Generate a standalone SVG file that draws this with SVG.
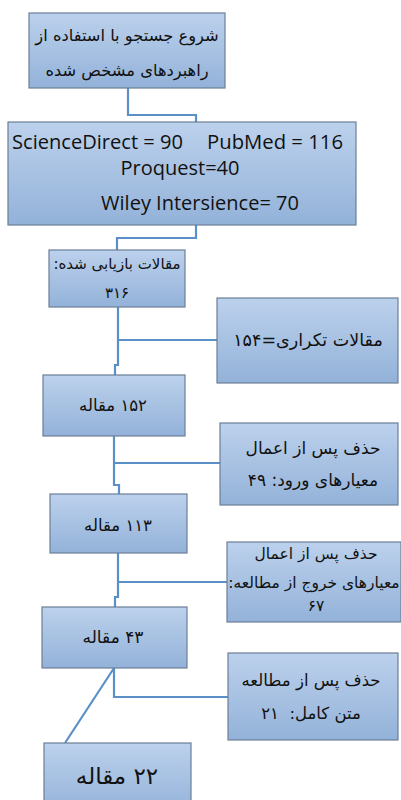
<svg xmlns="http://www.w3.org/2000/svg" width="401" height="800" viewBox="0 0 401 800">
<defs>
<linearGradient id="g" x1="0" y1="0" x2="0" y2="1">
<stop offset="0" stop-color="#bcd1ec"/>
<stop offset="1" stop-color="#93b2d9"/>
</linearGradient>
<style>
.box{fill:url(#g);stroke:#6b7f97;stroke-width:1.2}
.fa{font-family:"DejaVu Sans","Noto Sans",sans-serif;font-size:15px;fill:#111;text-anchor:middle;direction:rtl;unicode-bidi:embed}
.en{font-family:"Open Sans","Liberation Sans",sans-serif;font-size:20px;fill:#111}
.c{fill:none;stroke:#5b8fc7;stroke-width:2.2}
</style>
</defs>
<rect width="401" height="800" fill="#fff"/>
<g id="connectors">
<path class="c" d="M128 88 V115 H196 V122"/>
<path class="c" d="M196 225 V238 H117 V250"/>
<path class="c" d="M118 307 V340 H217 M118 340 V365 H115 V375"/>
<path class="c" d="M114 436 V463 H220 M114 463 V485 H119 V494"/>
<path class="c" d="M118 553 V582 H227 M118 582 V597 H115 V607"/>
<path class="c" d="M114 668 V697 H228 M114 668 L65 743"/>
</g>
<g id="n1"><rect class="box" x="29" y="13" width="196" height="75"/>
<text class="fa" x="127" y="41" style="font-size:16.3px">شروع جستجو با استفاده از</text>
<text class="fa" x="127" y="76" style="font-size:16.3px">راهبردهای مشخص شده</text></g>
<g id="n2"><rect class="box" x="8" y="122" width="348" height="103"/>
<text class="en" x="12" y="149" textLength="171" lengthAdjust="spacingAndGlyphs">ScienceDirect = 90</text>
<text class="en" x="207" y="149" textLength="136" lengthAdjust="spacingAndGlyphs">PubMed = 116</text>
<text class="en" x="180" y="175" text-anchor="middle">Proquest=40</text>
<text class="en" x="200" y="210" text-anchor="middle">Wiley Intersience= 70</text></g>
<g id="n3"><rect class="box" x="49" y="250" width="136" height="57"/>
<text class="fa" x="117" y="269">مقالات بازیابی شده:</text>
<text class="fa" x="117" y="298">۳۱۶</text></g>
<g id="n4"><rect class="box" x="217" y="298" width="181" height="85"/>
<text class="fa" x="308" y="346" style="font-size:17.5px">مقالات تکراری=۱۵۴</text></g>
<g id="n5"><rect class="box" x="43" y="375" width="142" height="61"/>
<text class="fa" x="113" y="411" style="font-size:16.5px">۱۵۲ مقاله</text></g>
<g id="n6"><rect class="box" x="220" y="423" width="178" height="82"/>
<text class="fa" x="313" y="454" style="font-size:17px">حذف پس از اعمال</text>
<text class="fa" x="313" y="486" style="font-size:17px">معیارهای ورود: ۴۹</text></g>
<g id="n7"><rect class="box" x="50" y="494" width="137" height="59"/>
<text class="fa" x="118" y="531" style="font-size:16.5px">۱۱۳ مقاله</text></g>
<g id="n8"><rect class="box" x="227" y="542" width="174" height="80"/>
<text class="fa" x="316" y="559" style="font-size:15.5px">حذف پس از اعمال</text>
<text class="fa" x="314" y="588" style="font-size:15.5px">معیارهای خروج از مطالعه:</text>
<text class="fa" x="316" y="611" style="font-size:15.5px">۶۷</text></g>
<g id="n9"><rect class="box" x="42" y="607" width="145" height="61"/>
<text class="fa" x="113" y="643" style="font-size:17px">۴۳ مقاله</text></g>
<g id="n10"><rect class="box" x="228" y="653" width="170" height="87"/>
<text class="fa" x="311" y="686" style="font-size:16.5px">حذف پس از مطالعه</text>
<text class="fa" x="311" y="719" style="font-size:16.5px" xml:space="preserve">متن کامل:  ۲۱</text></g>
<g id="n11"><rect class="box" x="44" y="743" width="147" height="70"/>
<text class="fa" x="117" y="784" style="font-size:23px">۲۲ مقاله</text></g>
</svg>
